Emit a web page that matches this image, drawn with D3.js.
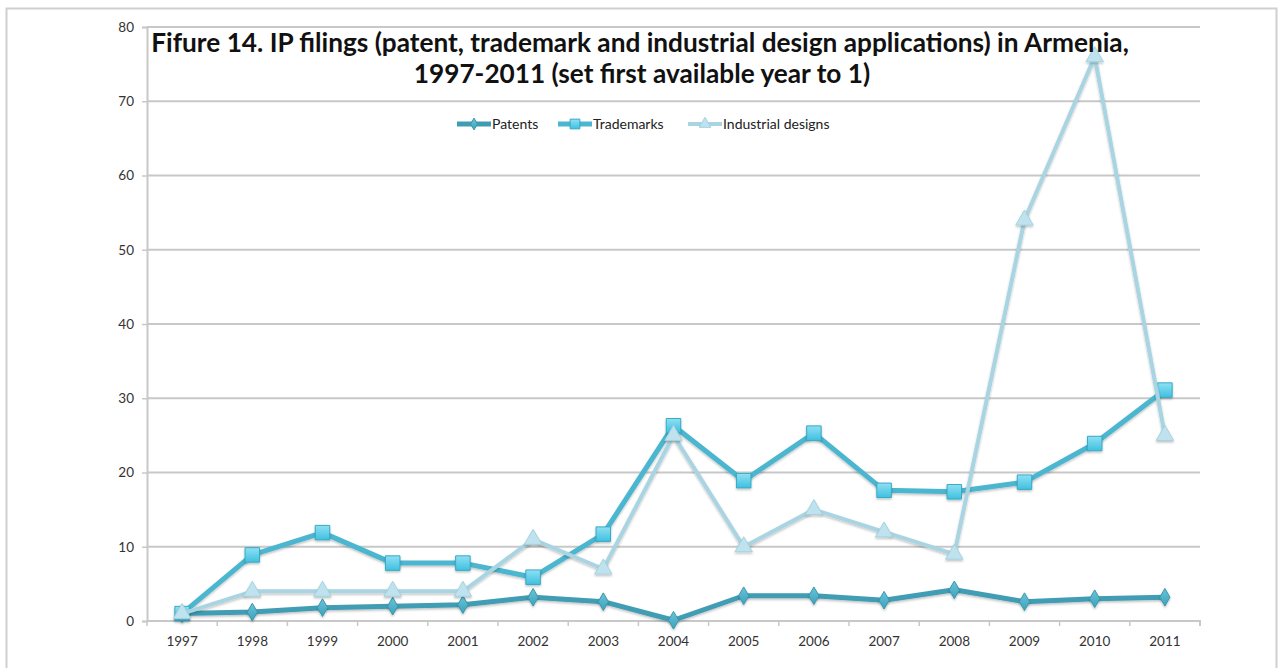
<!DOCTYPE html>
<html>
<head>
<meta charset="utf-8">
<script src="https://cdn.jsdelivr.net/npm/d3@7"></script>
<style>
  body { margin: 0; background: #fff; }
  text { font-family: Lato, "Open Sans", sans-serif; }
</style>
</head>
<body>
<div id="chart"></div>
<script>
// data
var years       = ["1997","1998","1999","2000","2001","2002","2003","2004","2005","2006","2007","2008","2009","2010","2011"];
var patents     = [1, 1.2, 1.8, 2, 2.2, 3.2, 2.6, 0.1, 3.4, 3.4, 2.8, 4.2, 2.6, 3, 3.2];
var trademarks  = [1, 8.9, 11.9, 7.8, 7.8, 5.9, 11.7, 26.3, 18.9, 25.3, 17.6, 17.4, 18.7, 23.9, 31.1];
var designs     = [1, 4, 4, 4, 4, 11, 7, 25, 10, 15, 12, 9, 54, 76, 25];
var yTicks      = [0, 10, 20, 30, 40, 50, 60, 70, 80];
var seriesNames = ["Patents", "Trademarks", "Industrial designs"];

var W = 1278, H = 668;
var gMargin = {top: 27, right: 78, bottom: 47, left: 147};

var svg = d3.select("#chart").append("svg")
    .attr("width", W).attr("height", H);

var defs = svg.append("defs");
var gr = defs.append("linearGradient").attr("id", "sqGrad")
    .attr("x1", 0).attr("y1", 0).attr("x2", 0).attr("y2", 1);
gr.append("stop").attr("offset", "0%").attr("stop-color", "#8fe0f3");
gr.append("stop").attr("offset", "100%").attr("stop-color", "#3fc0e0");
var gr2 = defs.append("linearGradient").attr("id", "diaGrad")
    .attr("x1", 0).attr("y1", 0).attr("x2", 0).attr("y2", 1);
gr2.append("stop").attr("offset", "0%").attr("stop-color", "#6cc3d8");
gr2.append("stop").attr("offset", "100%").attr("stop-color", "#3aa3bc");
var sh = defs.append("filter").attr("id", "shadow")
    .attr("x", "-30%").attr("y", "-30%").attr("width", "160%").attr("height", "170%");
sh.append("feDropShadow").attr("dx", 0).attr("dy", 1.5).attr("stdDeviation", 1)
    .attr("flood-color", "#000").attr("flood-opacity", 0.25);

// outer frame
svg.append("path")
    .attr("d", "M6.5," + H + " V8.5 H" + (W - 1.5) + " V" + H)
    .attr("fill", "none").attr("stroke", "#cfcfcf").attr("stroke-width", 2);

var x = d3.scaleBand().domain(years).range([gMargin.left, W - gMargin.right]);
var y = d3.scaleLinear().domain([0, 80]).range([H - gMargin.bottom, gMargin.top]);

// gridlines
svg.append("g").selectAll("line").data(yTicks.slice(1)).enter().append("line")
    .attr("x1", gMargin.left).attr("x2", W - gMargin.right)
    .attr("y1", function(d) { return y(d); }).attr("y2", function(d) { return y(d); })
    .attr("stroke", "#c8c8c8").attr("stroke-width", 2);

// y axis
var yAxis = svg.append("g")
    .attr("transform", "translate(" + gMargin.left + ",0)")
    .call(d3.axisLeft(y).tickValues(yTicks).tickSize(5).tickPadding(8));
yAxis.select(".domain").attr("stroke", "#c8c8c8").attr("stroke-width", 2);
yAxis.selectAll(".tick line").attr("stroke", "#c8c8c8").attr("stroke-width", 1.5);
yAxis.selectAll("text").attr("font-size", 13.5).attr("fill", "#333")
    .style("font-family", "Lato, 'Open Sans', sans-serif");

// x axis
var xAxis = svg.append("g")
    .attr("transform", "translate(0," + y(0) + ")")
    .call(d3.axisBottom(x).tickSize(0).tickPadding(15));
xAxis.select(".domain").attr("stroke", "#c8c8c8").attr("stroke-width", 2)
    .attr("d", "M" + gMargin.left + ",0H" + (W - gMargin.right) + "V5");
xAxis.selectAll("text").attr("font-size", 13.5).attr("fill", "#333")
    .style("font-family", "Lato, 'Open Sans', sans-serif");
svg.append("g").selectAll("line").data(years).enter().append("line")
    .attr("x1", function(d) { return x(d); }).attr("x2", function(d) { return x(d); })
    .attr("y1", y(0)).attr("y2", y(0) + 5)
    .attr("stroke", "#c8c8c8").attr("stroke-width", 1.5);

var cx = function(i) { return x(years[i]) + x.bandwidth() / 2; };

var series = [
  {name: seriesNames[0], values: patents,    line: "#3f9db3", width: 5, shape: d3.symbolDiamond,  size: 90,  fill: "url(#diaGrad)", stroke: "#3a98ae"},
  {name: seriesNames[1], values: trademarks, line: "#4bb6cf", width: 5, shape: d3.symbolSquare,   size: 210, fill: "url(#sqGrad)",  stroke: "#37a9c6"},
  {name: seriesNames[2], values: designs,    line: "#a9d5e2", width: 4, shape: d3.symbolTriangle, size: 130, fill: "#bfe3ee",      stroke: "#a5d2df"}
];

var lineGen = d3.line()
    .x(function(d, i) { return cx(i); })
    .y(function(d) { return y(d); });

series.forEach(function(s) {
  var g = svg.append("g");
  g.append("path").datum(s.values)
      .attr("d", lineGen)
      .attr("fill", "none")
      .attr("stroke", s.line)
      .attr("stroke-width", s.width)
      .attr("stroke-linejoin", "round")
      .attr("filter", "url(#shadow)");
  g.selectAll("path.m").data(s.values).enter().append("path")
      .attr("class", "m")
      .attr("d", d3.symbol().type(s.shape).size(s.size))
      .attr("transform", function(d, i) { return "translate(" + cx(i) + "," + y(d) + ")"; })
      .attr("fill", s.fill)
      .attr("stroke", s.stroke)
      .attr("stroke-width", 1)
      .attr("filter", "url(#shadow)");
});

// legend
var legX = [457, 558, 688];
var leg = svg.append("g").attr("transform", "translate(0,124)");
series.forEach(function(s, i) {
  var lg = leg.append("g").attr("transform", "translate(" + legX[i] + ",0)");
  lg.append("line").attr("x1", 0).attr("x2", 34).attr("y1", 0).attr("y2", 0)
      .attr("stroke", s.line).attr("stroke-width", s.width);
  lg.append("path")
      .attr("d", d3.symbol().type(s.shape).size(s.size * 0.45))
      .attr("transform", "translate(17,0)")
      .attr("fill", s.fill).attr("stroke", s.stroke).attr("stroke-width", 1);
  lg.append("text").attr("x", 35).attr("y", 5)
      .attr("font-size", 14).attr("fill", "#222")
      .text(s.name);
});

// title
var title = svg.append("g").attr("font-weight", "bold").attr("fill", "#111");
var t1 = title.append("text").attr("x", 640).attr("y", 52).attr("text-anchor", "middle")
    .attr("font-size", 22)
    .text("Fifure 14. IP filings (patent, trademark and industrial design applications) in Armenia,");
var t2 = title.append("text").attr("x", 642).attr("y", 83).attr("text-anchor", "middle")
    .attr("font-size", 22)
    .text("1997-2011 (set first available year to 1)");
// fit font size to the width of the first line in the picture
var fs = 22 * 978 / t1.node().getComputedTextLength();
t1.attr("font-size", fs);
t2.attr("font-size", fs);
</script>
</body>
</html>
